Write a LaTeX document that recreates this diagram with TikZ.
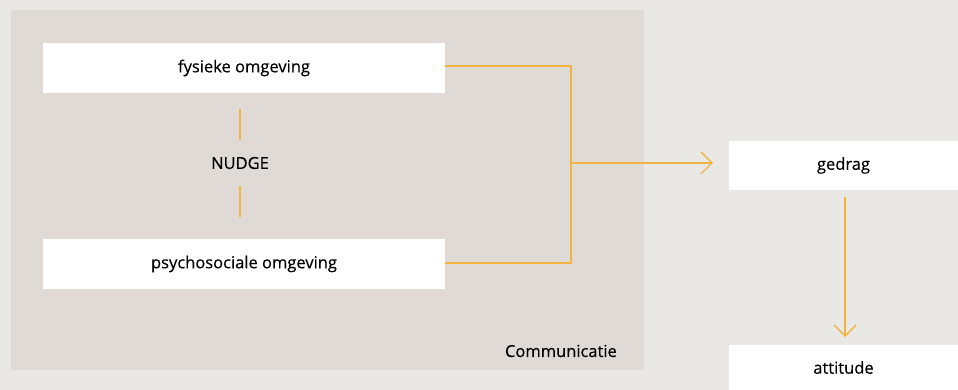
\documentclass[tikz,border=0pt]{standalone}
\usepackage{fontspec}
\setmainfont{Open Sans}[UprightFeatures={FakeBold=0.3}]
\definecolor{outerbg}{HTML}{EAE8E4}
\definecolor{innerbg}{HTML}{DFDAD6}
\definecolor{lineor}{HTML}{F2B441}
\begin{document}
\begin{tikzpicture}[x=1pt,y=-1pt,
  box/.style={fill=white,draw=none,inner sep=0pt,font=\fontsize{16.5}{18}\selectfont},
  conn/.style={draw=lineor,line width=1.4pt},
  lbl/.style={inner sep=0pt,font=\fontsize{16.5}{18}\selectfont},
  tip/.style={draw=lineor,line width=1.4pt}]
\fill[outerbg] (0,0) rectangle (958,390);
\useasboundingbox (0,0) rectangle (958,390);
\fill[innerbg] (11,10) rectangle (644,370);
\node[box,minimum width=402pt,minimum height=50pt] (fys) at (244,68) {fysieke omgeving};
\node[box,minimum width=402pt,minimum height=50pt] (psy) at (244,264) {psychosociale omgeving};
\node[box,minimum width=229pt,minimum height=49pt] (ged) at (843.5,165.5) {gedrag};
\node[box,minimum width=229pt,minimum height=45pt] (att) at (843.5,367.5) {attitude};
\node[lbl] (nudge) at (240,163) {NUDGE};
\node[lbl,anchor=east] (comm) at (617,351) {Communicatie};
\coordinate (j1) at (571,66);
\coordinate (j2) at (571,263);
\coordinate (jm) at (571,163);
\coordinate (ar) at (712,163);
\coordinate (ad) at (845,336);
\draw[conn] (fys.east |- j1) -- (j1) -- (j2) -- (psy.east |- j2);
\draw[conn] (jm) -- (ar);
\draw[tip] (701,152) -- (ar) -- (701,174);
\draw[conn] ([yshift=-7pt]ged.south -| ad) -- (ad);
\draw[tip] (834,325) -- (ad) -- (856,325);
\coordinate (n1) at (240,109);
\coordinate (n2) at (240,140);
\coordinate (n3) at (240,186);
\coordinate (n4) at (240,217);
\draw[conn,line width=1.2pt] (n1) -- (n2);
\draw[conn,line width=1.2pt] (n3) -- (n4);
\end{tikzpicture}
\end{document}
